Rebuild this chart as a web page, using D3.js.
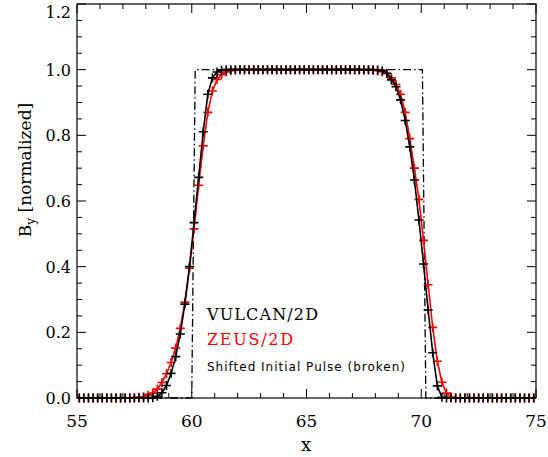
<!DOCTYPE html>
<html>
<head>
<meta charset="utf-8">
<script src="https://cdn.jsdelivr.net/npm/d3@7"></script>
<style>
  body { margin: 0; background: #fff; }
  svg { display: block; }
</style>
</head>
<body>
<svg id="chart" width="548" height="457"></svg>
<script>
// grid positions (cell centres) shared by both runs
const xs = [
    55.1, 55.3, 55.5, 55.7, 55.9, 56.1, 56.3, 56.5, 56.7, 56.9,
    57.1, 57.3, 57.5, 57.7, 57.9, 58.1, 58.3, 58.5, 58.7, 58.9,
    59.1, 59.3, 59.5, 59.7, 59.9, 60.1, 60.3, 60.5, 60.7, 60.9,
    61.1, 61.3, 61.5, 61.7, 61.9, 62.1, 62.3, 62.5, 62.7, 62.9,
    63.1, 63.3, 63.5, 63.7, 63.9, 64.1, 64.3, 64.5, 64.7, 64.9,
    65.1, 65.3, 65.5, 65.7, 65.9, 66.1, 66.3, 66.5, 66.7, 66.9,
    67.1, 67.3, 67.5, 67.7, 67.9, 68.1, 68.3, 68.5, 68.7, 68.9,
    69.1, 69.3, 69.5, 69.7, 69.9, 70.1, 70.3, 70.5, 70.7, 70.9,
    71.1, 71.3, 71.5, 71.7, 71.9, 72.1, 72.3, 72.5, 72.7, 72.9,
    73.1, 73.3, 73.5, 73.7, 73.9, 74.1, 74.3, 74.5, 74.7, 74.9
];

const vulcan = [
    0, 0, 0, 0, 0, 0, 0, 0, 0, 0,
    0, 0, 0, 0, 0, 0, 0.001, 0.005, 0.016, 0.038,
    0.075, 0.126, 0.195, 0.286, 0.400, 0.534, 0.672, 0.811, 0.925, 0.975,
    0.993, 0.998, 1, 1, 1, 1, 1, 1, 1, 1,
    1, 1, 1, 1, 1, 1, 1, 1, 1, 1,
    1, 1, 1, 1, 1, 1, 1, 1, 1, 1,
    1, 1, 1, 1, 1, 0.999, 0.997, 0.989, 0.969, 0.948,
    0.908, 0.845, 0.765, 0.664, 0.542, 0.408, 0.268, 0.138, 0.037, 0.002,
    0, 0, 0, 0, 0, 0, 0, 0, 0, 0,
    0, 0, 0, 0, 0, 0, 0, 0, 0, 0
];

const zeus = [
    0, 0, 0, 0, 0, 0, 0, 0, 0, 0,
    0, 0, 0.001, 0.002, 0.004, 0.008, 0.015, 0.027, 0.047, 0.074,
    0.108, 0.152, 0.212, 0.292, 0.395, 0.515, 0.648, 0.768, 0.870, 0.935,
    0.970, 0.985, 0.993, 0.997, 0.999, 1, 1, 1, 1, 1,
    1, 1, 1, 1, 1, 1, 1, 1, 1, 1,
    1, 1, 1, 1, 1, 1, 1, 1, 1, 1,
    1, 1, 0.999, 0.999, 0.998, 0.997, 0.994, 0.988, 0.975, 0.955,
    0.925, 0.870, 0.790, 0.700, 0.605, 0.480, 0.345, 0.215, 0.112, 0.048,
    0.015, 0.003, 0, 0, 0, 0, 0, 0, 0, 0,
    0, 0, 0, 0, 0, 0, 0, 0, 0, 0
];

// shifted initial pulse
const pulseX = [55, 60.0, 60.15, 70.05, 70.2, 75];
const pulseY = [0, 0, 1, 1, 0, 0];

const xTicks = [55, 60, 65, 70, 75];
const yTicks = [0, 0.2, 0.4, 0.6, 0.8, 1.0, 1.2];

const svg = d3.select("#chart");
const mLeft = 77, mRight = 536, mTop = 4, mBottom = 398;

const x = d3.scaleLinear().domain([55, 75]).range([mLeft, mRight]);
const y = d3.scaleLinear().domain([0, 1.2]).range([mBottom, mTop]);

const serif = "'DejaVu Serif', 'Liberation Serif', serif";

// frame
svg.append("rect")
    .attr("x", mLeft).attr("y", mTop)
    .attr("width", mRight - mLeft).attr("height", mBottom - mTop)
    .attr("fill", "none").attr("stroke", "#000").attr("stroke-width", 1.2);

// ticks on all four sides, pointing inward
const g = svg.append("g").attr("stroke", "#000").attr("stroke-width", 1);
d3.range(55, 75.01, 1).forEach(v => {
    const major = xTicks.includes(Math.round(v));
    const len = major ? 9 : 5;
    g.append("line").attr("x1", x(v)).attr("x2", x(v)).attr("y1", mBottom).attr("y2", mBottom - len);
    g.append("line").attr("x1", x(v)).attr("x2", x(v)).attr("y1", mTop).attr("y2", mTop + len);
});
d3.range(0, 1.2001, 0.05).forEach(v => {
    const major = yTicks.some(t => Math.abs(t - v) < 1e-6);
    const len = major ? 9 : 5;
    g.append("line").attr("x1", mLeft).attr("x2", mLeft + len).attr("y1", y(v)).attr("y2", y(v));
    g.append("line").attr("x1", mRight).attr("x2", mRight - len).attr("y1", y(v)).attr("y2", y(v));
});

// tick labels
svg.append("g").selectAll("text")
    .data(xTicks).enter().append("text")
    .attr("x", d => x(d)).attr("y", 427)
    .attr("text-anchor", "middle")
    .attr("font-family", serif).attr("font-size", 17)
    .text(d => d);

svg.append("g").selectAll("text")
    .data(yTicks).enter().append("text")
    .attr("x", 71).attr("y", d => Math.max(y(d) + 6, 18))
    .attr("text-anchor", "end")
    .attr("font-family", serif).attr("font-size", 16)
    .text(d => d.toFixed(1));

// axis titles
svg.append("text")
    .attr("x", 306).attr("y", 451)
    .attr("text-anchor", "middle")
    .attr("font-family", serif).attr("font-size", 18)
    .text("x");

const yl = svg.append("text")
    .attr("transform", "translate(31,170) rotate(-90)")
    .attr("text-anchor", "middle")
    .attr("font-family", serif).attr("font-size", 17);
yl.append("tspan").text("B");
yl.append("tspan").attr("dy", 4).attr("font-size", 12).text("y");
yl.append("tspan").attr("dy", -4).text(" [normalized]");

// clip to plot box
svg.append("clipPath").attr("id", "clip")
    .append("rect").attr("x", mLeft).attr("y", mTop - 6)
    .attr("width", mRight - mLeft).attr("height", mBottom - mTop + 12);

const plot = svg.append("g").attr("clip-path", "url(#clip)");

const line = d3.line().x(d => x(d[0])).y(d => y(d[1]));

// initial pulse: dash-dot
plot.append("path")
    .datum(pulseX.map((v, i) => [v, pulseY[i]]))
    .attr("d", line)
    .attr("fill", "none").attr("stroke", "#000").attr("stroke-width", 1.3)
    .attr("stroke-dasharray", "8,3,1.5,3");

function drawSeries(vals, color) {
    const pts = xs.map((v, i) => [v, vals[i]]);
    plot.append("path")
        .datum(pts)
        .attr("d", line)
        .attr("fill", "none").attr("stroke", color).attr("stroke-width", 1.6);
    plot.append("g").selectAll("path")
        .data(pts).enter().append("path")
        .attr("d", d => {
            const px = x(d[0]), py = y(d[1]);
            return `M${px - 4.5},${py}H${px + 4.5}M${px},${py - 4.5}V${py + 4.5}`;
        })
        .attr("stroke", color).attr("stroke-width", 1.6);
}

drawSeries(zeus, "#ff0000");
drawSeries(vulcan, "#000000");

// legend
svg.append("text").attr("x", 207).attr("y", 320)
    .attr("font-family", serif).attr("font-size", 16)
    .attr("textLength", 111)
    .text("VULCAN/2D");
svg.append("text").attr("x", 207).attr("y", 345)
    .attr("font-family", serif).attr("font-size", 16)
    .attr("fill", "#ff0000")
    .attr("textLength", 86)
    .text("ZEUS/2D");
svg.append("text").attr("x", 207).attr("y", 371)
    .attr("font-family", "'DejaVu Sans', sans-serif").attr("font-size", 12)
    .attr("textLength", 198)
    .text("Shifted Initial Pulse (broken)");
</script>
</body>
</html>
